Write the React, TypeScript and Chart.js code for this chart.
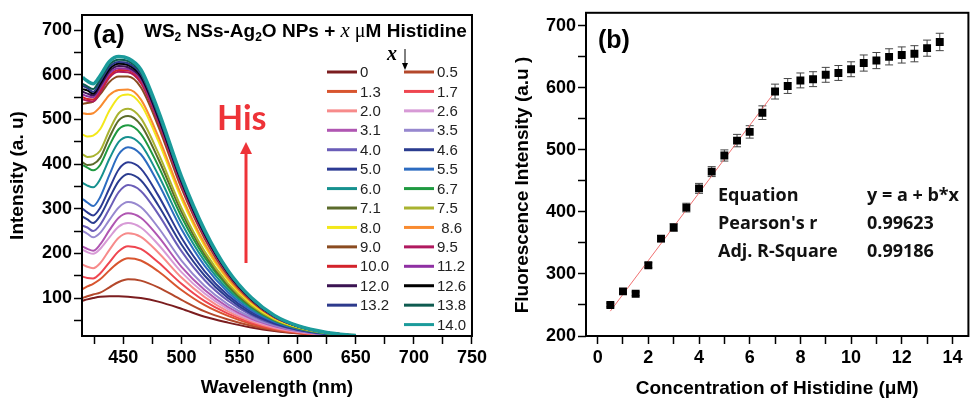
import React, { useEffect, useRef } from "react";
import { Chart, registerables } from "chart.js";
Chart.register(...registerables);

// ---------- Panel (a): emission spectra ----------
const wavelengths = [415, 419, 424, 430, 438, 446, 454, 465, 480, 500, 520, 540, 560, 580, 600, 625, 650];

const concLabels = ["0", "0.5", "1.3", "1.7", "2.0", "2.6", "3.1", "3.5", "4.0", "4.6", "5.0", "5.5", "6.0", "6.7", "7.1", "7.5", "8.0", " 8.6", "9.0", "9.5", "10.0", "11.2", "12.0", "12.6", "13.2", "13.8", "14.0"];

const lineColors = ["#7b1d1f", "#b4482b", "#d8552f", "#ef4650", "#f78b8b", "#d79ad6", "#b056b2", "#9788cf", "#6a5db8", "#2a3c8f", "#2c3b94", "#2d6cc1", "#16918f", "#1f9a41", "#5b6b2b", "#a9b330", "#f3e81a", "#f98b30", "#8a4b20", "#b0195f", "#d3232b", "#8f30a3", "#3b1452", "#000000", "#2d3a8c", "#0f5b50", "#1b9b9b"];

const spectra = [
  [94, 97, 100, 103, 104, 104, 103, 100, 92, 76, 58, 45, 34, 26, 21, 16, 14],
  [100, 104, 108, 112, 124, 136, 142, 139, 124, 96, 70, 52, 38, 28, 21, 16, 14],
  [120, 126, 132, 142, 162, 180, 189, 184, 160, 118, 84, 60, 42, 30, 22, 16, 14],
  [148, 145, 144, 155, 180, 205, 216, 210, 180, 132, 93, 65, 45, 31, 23, 17, 14],
  [175, 170, 167, 178, 208, 235, 245, 237, 202, 146, 102, 70, 48, 33, 24, 17, 14],
  [208, 203, 199, 210, 236, 260, 268, 258, 220, 158, 110, 75, 51, 35, 25, 18, 14],
  [215, 210, 206, 220, 252, 280, 290, 280, 238, 170, 118, 80, 54, 37, 26, 18, 14],
  [250, 244, 236, 246, 275, 303, 315, 304, 258, 184, 127, 86, 57, 39, 27, 19, 15],
  [262, 258, 250, 264, 300, 337, 353, 340, 288, 205, 140, 94, 62, 41, 28, 19, 15],
  [282, 276, 268, 284, 324, 362, 378, 364, 308, 220, 150, 100, 65, 43, 29, 20, 15],
  [300, 292, 285, 302, 346, 388, 404, 390, 330, 235, 160, 106, 69, 45, 30, 20, 15],
  [322, 314, 306, 326, 376, 422, 438, 422, 357, 254, 172, 113, 73, 47, 31, 21, 15],
  [358, 352, 348, 366, 412, 450, 461, 444, 376, 268, 182, 119, 77, 49, 32, 21, 15],
  [398, 392, 386, 398, 442, 478, 487, 468, 396, 282, 191, 125, 80, 50, 33, 21, 15],
  [404, 398, 400, 414, 460, 498, 508, 488, 412, 293, 198, 129, 82, 51, 33, 21, 15],
  [422, 416, 418, 430, 476, 514, 524, 503, 425, 302, 204, 133, 84, 52, 34, 21, 15],
  [466, 462, 464, 478, 520, 550, 556, 534, 452, 322, 216, 140, 88, 54, 35, 22, 15],
  [514, 512, 514, 528, 555, 566, 567, 545, 462, 330, 222, 144, 91, 56, 37, 23, 17],
  [535, 537, 540, 556, 584, 596, 596, 572, 485, 346, 233, 150, 94, 57, 37, 23, 16],
  [545, 542, 540, 560, 594, 607, 606, 582, 494, 352, 237, 153, 96, 58, 37, 23, 16],
  [550, 546, 545, 565, 598, 611, 610, 586, 497, 355, 239, 154, 96, 58, 37, 23, 16],
  [556, 552, 550, 570, 603, 615, 613, 590, 500, 357, 240, 155, 97, 58, 37, 23, 16],
  [562, 558, 554, 575, 608, 620, 617, 594, 503, 359, 242, 156, 97, 59, 37, 23, 16],
  [568, 565, 558, 580, 613, 625, 622, 598, 507, 362, 244, 157, 98, 59, 37, 23, 16],
  [575, 570, 562, 585, 618, 629, 626, 602, 510, 364, 246, 158, 99, 60, 38, 23, 16],
  [580, 574, 568, 590, 623, 634, 631, 606, 514, 367, 248, 159, 100, 60, 38, 23, 16],
  [594, 586, 580, 598, 630, 641, 637, 612, 520, 372, 252, 162, 101, 61, 38, 23, 16],
];

// ---------- Panel (b): peak intensity vs concentration ----------
const concB = [0.5, 1, 1.5, 2, 2.5, 3, 3.5, 4, 4.5, 5, 5.5, 6, 6.5, 7, 7.5, 8, 8.5, 9, 9.5, 10, 10.5, 11, 11.5, 12, 12.5, 13, 13.5];
const intensityB = [250, 272, 268, 314, 357, 375, 407, 438, 465, 491, 515, 529, 560, 594, 603, 612, 614, 621, 624, 630, 640, 644, 650, 653, 655, 664, 674];
const errorB = [3, 3, 3, 4, 5, 6, 7, 8, 8, 9, 10, 10, 11, 12, 12, 12, 12, 12, 12, 12, 13, 13, 13, 13, 13, 13, 14];
const fitX = [0.5, 7];
const fitY = [240, 594];

const eqLeft = ["Equation", "Pearson's r", "Adj. R-Square"];
const eqRight = ["y = a + b*x", "0.99623", "0.99186"];

const SANS = '"Liberation Sans", Arial, sans-serif';
const SERIF = '"Liberation Serif", "DejaVu Serif", serif';

Chart.defaults.font.family = SANS;
Chart.defaults.color = "#000";

function drawRich(ctx: CanvasRenderingContext2D, x: number, y: number, parts: { t: string; f: string; dy?: number }[]) {
  let cx = x;
  for (const p of parts) {
    ctx.font = p.f;
    ctx.fillText(p.t, cx, y + (p.dy || 0));
    cx += ctx.measureText(p.t).width;
  }
}

const decorA = {
  id: "decorA",
  afterDraw(chart: any) {
    const ctx: CanvasRenderingContext2D = chart.ctx;
    const ca = chart.chartArea;
    ctx.save();
    ctx.strokeStyle = "#000";
    ctx.lineWidth = 2;
    ctx.strokeRect(ca.left, ca.top, ca.right - ca.left, ca.bottom - ca.top);

    ctx.fillStyle = "#000";
    ctx.textAlign = "left";
    ctx.textBaseline = "alphabetic";
    ctx.font = `bold 26px ${SANS}`;
    ctx.fillText("(a)", 93, 43);

    const B = `bold 19px ${SANS}`;
    const S = `bold 12px ${SANS}`;
    drawRich(ctx, 144, 37, [
      { t: "WS", f: B },
      { t: "2", f: S, dy: 4 },
      { t: " NSs-Ag", f: B },
      { t: "2", f: S, dy: 4 },
      { t: "O NPs + ", f: B },
      { t: "x", f: `italic 21px ${SERIF}` },
      { t: " \u03bc", f: `20px ${SERIF}` },
      { t: "M Histidine", f: B },
    ]);

    // legend
    const ds = chart.data.datasets;
    const n = ds.length;
    ctx.textBaseline = "middle";
    ds.forEach((d: any, i: number) => {
      const row = Math.floor(i / 2);
      const col = i === n - 1 && n % 2 === 1 ? 1 : i % 2;
      const y = 72 + row * 19.43;
      const x0 = col === 0 ? 327 : 404;
      ctx.strokeStyle = d.borderColor;
      ctx.lineWidth = 3;
      ctx.beginPath();
      ctx.moveTo(x0, y);
      ctx.lineTo(x0 + 30, y);
      ctx.stroke();
      ctx.fillStyle = "#222";
      ctx.font = `15px ${SANS}`;
      ctx.fillText(d.label, x0 + 33, y + 1);
    });

    // x with down arrow
    ctx.fillStyle = "#000";
    ctx.font = `bold italic 20px ${SERIF}`;
    ctx.fillText("x", 387, 55);
    ctx.strokeStyle = "#000";
    ctx.lineWidth = 1;
    ctx.beginPath();
    ctx.moveTo(405, 49);
    ctx.lineTo(405, 64);
    ctx.stroke();
    ctx.beginPath();
    ctx.moveTo(402, 63);
    ctx.lineTo(408, 63);
    ctx.lineTo(405, 70);
    ctx.closePath();
    ctx.fill();

    // His and arrow
    ctx.fillStyle = "#ee3338";
    ctx.font = `bold 34px Lato, ${SANS}`;
    ctx.textBaseline = "alphabetic";
    ctx.fillText("His", 217, 130);
    ctx.strokeStyle = "#ee3338";
    ctx.lineWidth = 3;
    ctx.beginPath();
    ctx.moveTo(246, 263);
    ctx.lineTo(246, 152);
    ctx.stroke();
    ctx.beginPath();
    ctx.moveTo(240, 154);
    ctx.lineTo(252, 154);
    ctx.lineTo(246, 142);
    ctx.closePath();
    ctx.fill();
    ctx.restore();
  },
};

const decorB = {
  id: "decorB",
  beforeDatasetsDraw(chart: any) {
    const ctx: CanvasRenderingContext2D = chart.ctx;
    const meta = chart.getDatasetMeta(0);
    const ys = chart.scales.y;
    ctx.save();
    ctx.strokeStyle = "#444";
    ctx.lineWidth = 1;
    meta.data.forEach((el: any, i: number) => {
      const x = el.x;
      const t = ys.getPixelForValue(intensityB[i] + errorB[i]);
      const b = ys.getPixelForValue(intensityB[i] - errorB[i]);
      ctx.beginPath();
      ctx.moveTo(x, t);
      ctx.lineTo(x, b);
      ctx.moveTo(x - 4, t);
      ctx.lineTo(x + 4, t);
      ctx.moveTo(x - 4, b);
      ctx.lineTo(x + 4, b);
      ctx.stroke();
    });
    ctx.restore();
  },
  afterDraw(chart: any) {
    const ctx: CanvasRenderingContext2D = chart.ctx;
    const ca = chart.chartArea;
    ctx.save();
    ctx.strokeStyle = "#000";
    ctx.lineWidth = 2;
    ctx.strokeRect(ca.left, ca.top, ca.right - ca.left, ca.bottom - ca.top);
    ctx.fillStyle = "#000";
    ctx.textAlign = "left";
    ctx.textBaseline = "alphabetic";
    ctx.font = `bold 25px ${SANS}`;
    ctx.fillText("(b)", 108, 48);

    // y-axis title
    ctx.save();
    ctx.translate(33, 185);
    ctx.rotate(-Math.PI / 2);
    ctx.textAlign = "center";
    ctx.textBaseline = "middle";
    ctx.font = `bold 19px ${SANS}`;
    ctx.fillText("Fluorescence Intensity (a.u )", 0, 0);
    ctx.restore();

    ctx.fillStyle = "#111";
    ctx.textBaseline = "middle";
    ctx.font = `bold 18px "Open Sans", ${SANS}`;
    eqLeft.forEach((t, i) => ctx.fillText(t, 228, 196 + i * 28));
    eqRight.forEach((t, i) => ctx.fillText(t, 377, 196 + i * 28));
    ctx.restore();
  },
};

const tickFont = { size: 18, weight: "bold" as const };
const titleFont = { size: 19, weight: "bold" as const };
const gridOpts = { drawOnChartArea: false, tickLength: 8, tickWidth: 1.5, tickColor: "#000" };

function makeA(canvas: HTMLCanvasElement) {
  return new Chart(canvas, {
    type: "line",
    data: {
      datasets: concLabels.map((lab, i) => ({
        label: lab,
        data: wavelengths.map((w, j) => ({ x: w, y: spectra[i][j] })),
        borderColor: lineColors[i],
        borderWidth: i === concLabels.length - 1 ? 3.5 : 2,
        pointRadius: 0,
        cubicInterpolationMode: "monotone" as const,
        fill: false,
        order: concLabels.length - 1 - i,
      })),
    },
    options: {
      responsive: false,
      animation: false,
      events: [],
      layout: { padding: { left: 0, top: 15, right: 12, bottom: 0 } },
      plugins: { legend: { display: false }, tooltip: { enabled: false } },
      scales: {
        x: {
          type: "linear",
          min: 414.4,
          max: 750,
          afterBuildTicks: (s: any) => { s.ticks = s.ticks.filter((t: any) => t.value % 25 === 0); },
          afterFit: (s: any) => { s.height = 64; },
          ticks: { stepSize: 25, includeBounds: false, autoSkip: false, maxRotation: 0, padding: 3, color: "#000", font: tickFont, callback: (v: any) => (v % 50 === 0 ? String(v) : "") },
          grid: gridOpts,
          border: { display: false },
          title: { display: true, text: "Wavelength (nm)", color: "#000", font: titleFont, padding: { top: 0, bottom: 1 } },
        },
        y: {
          type: "linear",
          min: 15,
          max: 734,
          afterBuildTicks: (s: any) => { s.ticks = s.ticks.filter((t: any) => t.value % 50 === 0); },
          afterFit: (s: any) => { s.width = 82; },
          ticks: { stepSize: 50, includeBounds: false, autoSkip: false, padding: 2, color: "#000", font: tickFont, callback: (v: any) => (v % 100 === 0 ? String(v) : "") },
          grid: gridOpts,
          border: { display: false },
          title: { display: true, text: "Intensity (a. u)", color: "#000", font: titleFont, padding: { top: 6, bottom: 0 } },
        },
      },
    },
    plugins: [decorA],
  } as any);
}

function makeB(canvas: HTMLCanvasElement) {
  return new Chart(canvas, {
    type: "scatter",
    data: {
      datasets: [
        {
          label: "Intensity",
          data: concB.map((x, i) => ({ x, y: intensityB[i] })),
          pointStyle: "rect",
          pointRadius: 5.6,
          backgroundColor: "#000",
          borderColor: "#000",
          borderWidth: 0,
          showLine: false,
        },
        {
          type: "line",
          label: "Linear fit",
          data: fitX.map((x, i) => ({ x, y: fitY[i] })),
          borderColor: "#f07070",
          borderWidth: 1,
          pointRadius: 0,
          showLine: true,
          fill: false,
        },
      ],
    },
    options: {
      responsive: false,
      animation: false,
      events: [],
      layout: { padding: { left: 0, top: 12, right: 1, bottom: 0 } },
      plugins: { legend: { display: false }, tooltip: { enabled: false } },
      scales: {
        x: {
          type: "linear",
          min: -0.46,
          max: 14.63,
          afterBuildTicks: (s: any) => { s.ticks = s.ticks.filter((t: any) => Number.isInteger(t.value)); },
          afterFit: (s: any) => { s.height = 64; },
          ticks: { stepSize: 1, includeBounds: false, autoSkip: false, maxRotation: 0, padding: 3, color: "#000", font: tickFont, callback: (v: any) => (v % 2 === 0 ? String(v) : "") },
          grid: gridOpts,
          border: { display: false },
          title: { display: true, text: "Concentration of Histidine (\u03bcM)", color: "#000", font: titleFont, padding: { top: 0, bottom: 0 } },
        },
        y: {
          type: "linear",
          min: 200,
          max: 721,
          afterBuildTicks: (s: any) => { s.ticks = s.ticks.filter((t: any) => t.value % 50 === 0); },
          afterFit: (s: any) => { s.width = 96; },
          ticks: { stepSize: 50, includeBounds: false, autoSkip: false, padding: 2, color: "#000", font: tickFont, callback: (v: any) => (v % 100 === 0 ? String(v) : "") },
          grid: gridOpts,
          border: { display: false },
          title: { display: false },
        },
      },
    },
    plugins: [decorB],
  } as any);
}

export default function App() {
  const refA = useRef<HTMLCanvasElement>(null);
  const refB = useRef<HTMLCanvasElement>(null);
  useEffect(() => {
    document.body.style.margin = "0";
    const a = makeA(refA.current!);
    const b = makeB(refB.current!);
    return () => {
      a.destroy();
      b.destroy();
    };
  }, []);
  return (
    <div style={{ position: "relative", width: 974, height: 400, background: "#fff", overflow: "hidden" }}>
      <canvas ref={refA} width={490} height={400} style={{ position: "absolute", left: 0, top: 0 }} />
      <canvas ref={refB} width={484} height={400} style={{ position: "absolute", left: 490, top: 0 }} />
    </div>
  );
}
